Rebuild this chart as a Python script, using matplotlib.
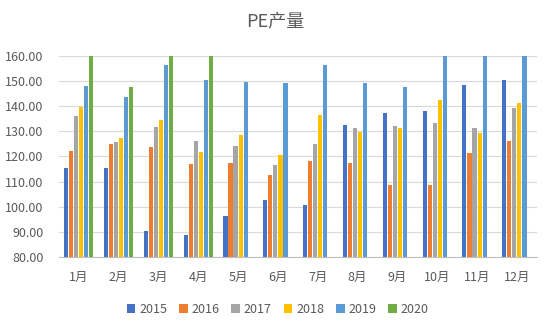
import numpy as np
import matplotlib.pyplot as plt

plt.rcParams['font.family'] = ['Noto Sans CJK SC', 'DejaVu Sans']

months = ['1月', '2月', '3月', '4月', '5月', '6月', '7月', '8月', '9月', '10月', '11月', '12月']
years = ['2015', '2016', '2017', '2018', '2019', '2020']

# 产量数据（超出160的部分在原图中被坐标轴截断）
v2015 = [115.6, 115.6, 90.4, 88.8, 96.4, 102.6, 100.7, 132.5, 137.2, 138.3, 148.4, 150.6]
v2016 = [122.3, 124.8, 123.8, 117.0, 117.4, 112.5, 118.1, 117.3, 108.5, 108.5, 121.4, 126.3]
v2017 = [136.2, 125.9, 131.8, 126.3, 124.0, 116.6, 125.1, 131.4, 132.1, 133.3, 131.4, 139.2]
v2018 = [139.6, 127.3, 134.7, 121.8, 128.4, 120.6, 136.6, 129.8, 131.2, 142.3, 129.2, 141.5]
v2019 = [148.1, 143.6, 156.6, 150.6, 149.5, 149.4, 156.6, 149.4, 147.8, 162.0, 162.0, 162.0]
v2020 = [165.0, 147.7, 165.0, 165.0]

series = [v2015, v2016, v2017, v2018, v2019, v2020]
colors = ['#4472C4', '#ED7D31', '#A5A5A5', '#FFC000', '#5B9BD5', '#70AD47']

fig = plt.figure(figsize=(5.5, 3.24), dpi=100)
ax = fig.add_axes([0.107, 0.207, 0.869, 0.62])

x = np.arange(len(months))
slot = 0.127
for i, (vals, c, yr) in enumerate(zip(series, colors, years)):
    pos = x[:len(vals)] + (i - 2.5) * slot
    ax.bar(pos, vals, width=slot * 0.82, color=c, label=yr, zorder=2)

ax.set_xlim(-0.5, 11.5)
ax.set_ylim(80, 160)
ax.set_yticks(np.arange(80, 161, 10))
ax.set_yticklabels([f'{v:.2f}' for v in np.arange(80, 161, 10)])
ax.set_xticks(x)
ax.set_xticklabels(months)
ax.grid(axis='y', color='#D9D9D9', linewidth=0.8, zorder=0)
for s in ['top', 'right', 'left']:
    ax.spines[s].set_visible(False)
ax.spines['bottom'].set_color('#BFBFBF')
ax.tick_params(axis='both', length=0, colors='#595959', labelsize=9)
ax.tick_params(axis='y', pad=11)
ax.tick_params(axis='x', pad=10)

fig.text(0.5, 0.935, 'PE产量', ha='center', va='center', fontsize=13, color='#595959')
fig.legend(loc='lower center', bbox_to_anchor=(0.505, -0.01), ncol=6, frameon=False,
           fontsize=9, handlelength=0.7, handleheight=0.7, handletextpad=0.3,
           columnspacing=0.95, labelcolor='#595959')

fig.savefig('out.png', dpi=100)
